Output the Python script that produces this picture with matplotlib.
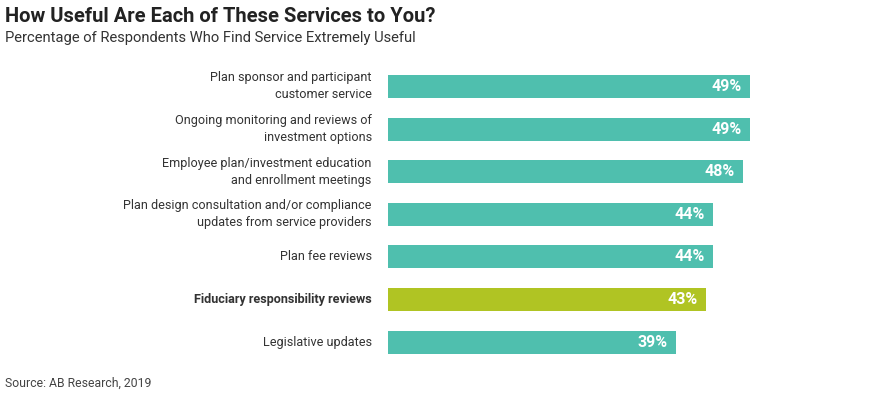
import matplotlib.pyplot as plt

labels = ['Plan sponsor and participant\ncustomer service',
          'Ongoing monitoring and reviews of\ninvestment options',
          'Employee plan/investment education\nand enrollment meetings',
          'Plan design consultation and/or compliance\nupdates from service providers',
          'Plan fee reviews',
          'Fiduciary responsibility reviews',
          'Legislative updates']
values = [49, 49, 48, 44, 44, 43, 39]
highlight = 'Fiduciary responsibility reviews'

teal = '#4FBFAE'
green = '#B0C423'
txt = '#333333'

plt.rcParams['font.family'] = ['Roboto', 'DejaVu Sans']

fig = plt.figure(figsize=(8.8, 3.93), dpi=100)
ax = fig.add_axes([388 / 880, 1 - 363.3 / 393, 369.5 / 880, (363.3 - 65.2) / 393])

colors = [green if l == highlight else teal for l in labels]
y = range(len(values))
ax.barh(y, values, height=0.54, color=colors)
ax.set_xlim(0, 50)
ax.set_ylim(len(values) - 0.5, -0.5)

for i, (l, v) in enumerate(zip(labels, values)):
    bold = l == highlight
    ax.text(-2.2, i, l, ha='right', va='center', fontsize=9.1, color=txt,
            fontweight='bold' if bold else 'normal', linespacing=1.4)
    ax.text(v - 1.1, i, f'{v}%', ha='right', va='center', fontsize=11.5,
            color='white', fontweight='bold')

ax.axis('off')

fig.text(5 / 880, 1 - 17 / 393, 'How Useful Are Each of These Services to You?',
         fontsize=14.5, fontweight='bold', color='#222222', va='center')
fig.text(5 / 880, 1 - 38 / 393, 'Percentage of Respondents Who Find Service Extremely Useful',
         fontsize=10.6, color='#333333', va='center')
fig.text(5 / 880, 1 - 383 / 393, 'Source: AB Research, 2019',
         fontsize=8.8, color='#444444', va='center')

fig.savefig('out.png', dpi=100)
